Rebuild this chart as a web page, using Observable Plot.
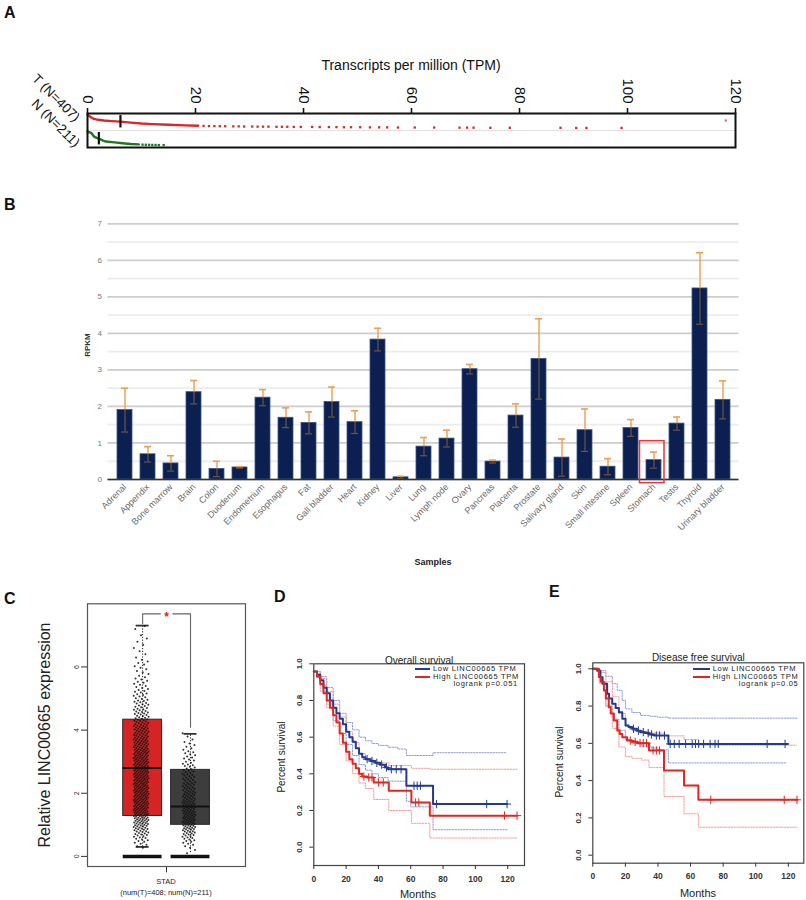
<!DOCTYPE html>
<html><head><meta charset="utf-8">
<script src="https://cdn.jsdelivr.net/npm/d3@7"></script>
<script src="https://cdn.jsdelivr.net/npm/@observablehq/plot@0.6"></script>
<style>
body{margin:0;background:#fff;}
#fig{position:relative;width:806px;height:900px;font-family:"Liberation Sans",Arial,Helvetica,sans-serif;overflow:hidden;background:#fff;color:#111;}
.plabel{position:absolute;font-weight:bold;font-size:16px;color:#111;}
</style></head><body><div id="fig"></div>
<script>
// ---------------- DATA ----------------
// Panel A: TPM quantile strip (T = tumour, N = normal); rank = fraction of samples
const A_ticks = [0, 20, 40, 60, 80, 100, 120];
const A_T_curveTpm  = [0, 0.2, 0.6, 1.2, 2, 3, 4.5, 6.1, 8, 10, 12, 15, 18, 20.5];
const A_T_curveRank = [0, 0.08, 0.18, 0.31, 0.37, 0.42, 0.46, 0.5, 0.57, 0.63, 0.67, 0.72, 0.76, 0.79];
const A_T_tailTpm  = [21.5, 22.5, 23.5, 24.5, 25.5, 27, 28, 29, 30.5, 31.5, 32.5, 33.5, 35, 36, 37, 38.2, 39.5, 41.6, 43, 44.7, 46.1, 47.5, 48.8, 50.5, 52.3, 54, 55.5, 57.5, 60.6, 64.2, 68.9, 70.3, 71.5, 74.6, 78.2, 87.6, 90.5, 92.4, 98.9];
const A_T_tailRank = [0.80, 0.81, 0.81, 0.82, 0.82, 0.83, 0.83, 0.84, 0.84, 0.85, 0.85, 0.85, 0.86, 0.86, 0.86, 0.87, 0.87, 0.87, 0.88, 0.88, 0.88, 0.89, 0.89, 0.89, 0.9, 0.9, 0.9, 0.91, 0.91, 0.91, 0.92, 0.92, 0.92, 0.93, 0.93, 0.93, 0.94, 0.94, 0.94];
const A_T_maxTpm = 118.2, A_T_maxRank = 0.42;
const A_N_curveTpm  = [0, 0.05, 0.3, 0.7, 1.0, 1.3, 1.7, 2.1, 2.8, 3.4, 5, 6.5, 8, 9.5];
const A_N_curveRank = [-0.05, 0.02, 0.05, 0.1, 0.25, 0.38, 0.45, 0.5, 0.62, 0.7, 0.76, 0.82, 0.87, 0.9];
const A_N_tailTpm  = [10.2, 10.8, 11.4, 12, 12.6, 13.2, 14.1];
const A_N_tailRank = [0.92, 0.93, 0.93, 0.94, 0.94, 0.95, 0.95];
const A_medianT = 6.1, A_medianN = 2.1;
const A_rows = ["T (N=407)", "N (N=211)"];

// Panel B: RPKM by tissue
const B_tissues = ["Adrenal","Appendix","Bone marrow","Brain","Colon","Duodenum","Endometrium","Esophagus","Fat","Gall bladder","Heart","Kidney","Liver","Lung","Lymph node","Ovary","Pancreas","Placenta","Prostate","Salivary gland","Skin","Small intestine","Spleen","Stomach","Testis","Thyroid","Urinary bladder"];
const B_rpkm = [1.90,0.69,0.44,2.39,0.29,0.33,2.24,1.69,1.55,2.12,1.57,3.83,0.06,0.90,1.12,3.02,0.49,1.75,3.30,0.60,1.35,0.35,1.41,0.53,1.53,5.23,2.18];
const B_sd   = [0.60,0.21,0.21,0.32,0.21,0.02,0.22,0.27,0.30,0.41,0.31,0.31,0.03,0.25,0.23,0.13,0.04,0.32,1.10,0.51,0.58,0.22,0.23,0.22,0.18,0.98,0.52];
const B_major = [0,1,2,3,4,5,6,7];
const B_minor = [0.5,1.5,2.5,3.5,4.5,5.5,6.5];
const B_highlight = "Stomach";

// Panel C: boxplot STAD
const C_groups = ["T","N"];
const C_q1 = [1.28, 1.00], C_med = [2.80, 1.58], C_q3 = [4.33, 2.74];
const C_whiskHi = [7.31, 3.88], C_whiskLo = [0.30, 0.12];
const C_yTicks = [0, 2, 4, 6];
const C_binStart = [0.3, 0.1];
const C_counts = [
  [2,3,4,5,6,7,8, 9,10,10,11,11,11,11,11,11,11, 11,11,11,11,11,11,11,11,11,10, 10,10,10,10,9,9,9,9,8,8, 8,8,7,7,6,6,6,5,5,5, 4,4,4,3,3,3,3,2,2,2, 2,2,2,1,1,1,1,1,1,1, 1,0,1,1],
  [1,1,2,3,4,5,6,7,8, 9,9,9,9,9,8,8,8,7,7, 7,6,6,6,5,5,5,4,4,4, 3,3,3,3,2,2,2,1,1,1]
];

// Panel D: overall survival (Kaplan-Meier)
const KM_xTicks = [0,20,40,60,80,100,120];
const KM_yTicks = [0,0.2,0.4,0.6,0.8,1.0];
const D_low_t = [0,2,4,6,8,10,12,14,16,18,20,22,24,26,28,30,32,35,38,41,44,46,57.3,73.8,119.6];
const D_low_s = [0.958,0.94,0.91,0.87,0.84,0.80,0.76,0.73,0.70,0.67,0.63,0.60,0.575,0.54,0.51,0.49,0.48,0.47,0.46,0.45,0.435,0.425,0.335,0.235,0.235];
const D_low_cens = [33,36,39,42,45,48,51,54,62,64,66,76,107,119.6];
const D_high_t = [0,2,4,6,8,10,12,14,16,18,20,22,24,26,28,30,33,37.1,46.4,60.4,71.8,125.8];
const D_high_s = [0.958,0.93,0.89,0.84,0.80,0.76,0.72,0.68,0.62,0.57,0.52,0.48,0.455,0.43,0.40,0.385,0.38,0.353,0.307,0.244,0.172,0.172];
const D_high_cens = [31,34,36,40,43,63,65,118,125.8];
const D_lowU_t = [0,4,8,12,16,20,24,28,32,36,40,46,52,57.3,73.8,119.6];
const D_lowU_s = [0.958,0.93,0.87,0.80,0.73,0.68,0.64,0.60,0.58,0.565,0.555,0.545,0.535,0.50,0.515,0.515];
const D_lowL_t = [0,4,8,12,16,20,24,28,32,36,40,46,57.3,60,73.8,119.6];
const D_lowL_s = [0.958,0.88,0.78,0.69,0.62,0.56,0.50,0.45,0.42,0.40,0.38,0.36,0.25,0.22,0.095,0.095];
const D_highCI_t = [0,4,8,12,16,20,24,28,32,37.1,46.4,60.4,71.8,125.8];
const D_highU_s = [0.958,0.92,0.85,0.78,0.71,0.63,0.57,0.51,0.48,0.46,0.445,0.43,0.425,0.425];
const D_highL_s = [0.958,0.85,0.76,0.66,0.56,0.47,0.40,0.35,0.32,0.26,0.20,0.13,0.05,0.05];

// Panel E: disease free survival
const E_low_t = [0,2.7,4.7,6,8.8,10,11.9,14,16,18.1,20.1,22,24.2,27,29.3,32,34.5,37.5,46.4,119.6];
const E_low_s = [1.0,0.99,0.955,0.92,0.866,0.84,0.812,0.79,0.767,0.732,0.696,0.688,0.678,0.668,0.66,0.655,0.648,0.642,0.597,0.597];
const E_low_cens = [25,28,31,34,36,39,41,44,47.5,50,53,57,61,63,65,68,72,75,77,107,118];
const E_high_t = [0,3.7,5,6.8,8,9.8,11,12.9,15,16.5,18.1,21.1,24,27.3,34.5,43.7,56,64.8,125.7];
const E_high_s = [1.0,0.955,0.93,0.884,0.84,0.794,0.76,0.723,0.669,0.65,0.633,0.615,0.608,0.601,0.562,0.454,0.374,0.297,0.297];
const E_high_cens = [23,26,29,31,33,37,39,41,72.4,117.5,125.3];
const E_lowU_t = [0,4,8,12,15,18,20.1,24,29.3,35,39.6,46.4,126];
const E_lowU_s = [1.0,0.99,0.96,0.92,0.884,0.83,0.785,0.765,0.75,0.745,0.74,0.735,0.735];
const E_lowL_t = [0,4,8,12,16,20,24,30,36,40,46.4,118.6];
const E_lowL_s = [1.0,0.93,0.80,0.73,0.67,0.62,0.60,0.585,0.575,0.565,0.495,0.495];
const E_highCI_t = [0,4,8,12,16,20,24,30,34.5,43.7,56,64.8,125];
const E_highU_s = [1.0,0.98,0.93,0.85,0.76,0.69,0.67,0.665,0.655,0.64,0.62,0.59,0.59];
const E_highL_s = [1.0,0.92,0.80,0.68,0.58,0.53,0.52,0.51,0.47,0.315,0.222,0.15,0.15];

// ---------------- HELPERS ----------------
const fig = document.getElementById("fig");
const FONT = "Liberation Sans, Arial, Helvetica, sans-serif";
function put(node, left, top) {
  const d = document.createElement("div");
  d.style.cssText = `position:absolute;left:${left}px;top:${top}px;`;
  d.appendChild(node); fig.appendChild(d); return d;
}
function ctext(text, cx, cy, style, rot) {
  const d = document.createElement("div");
  d.textContent = text;
  d.style.cssText = `position:absolute;left:${cx}px;top:${cy}px;white-space:nowrap;line-height:1;transform:translate(-50%,-50%) rotate(${rot||0}deg);${style||""}`;
  fig.appendChild(d); return d;
}
function ltext(text, x, cy, style, anchorRight) {
  const d = document.createElement("div");
  d.textContent = text;
  d.style.cssText = `position:absolute;left:${x}px;top:${cy}px;white-space:nowrap;line-height:1;transform:translate(${anchorRight ? "-100%" : "0"},-50%);${style||""}`;
  fig.appendChild(d); return d;
}
function hline(x, y, w, color, h) {
  const d = document.createElement("div");
  d.style.cssText = `position:absolute;left:${x}px;top:${y - (h||2)/2}px;width:${w}px;height:${h||2}px;background:${color};`;
  fig.appendChild(d);
}
function panelLabel(t, x, y) { const d = document.createElement("div"); d.className = "plabel"; d.textContent = t; d.style.left = x + "px"; d.style.top = y + "px"; fig.appendChild(d); }
const baseStyle = {fontFamily: FONT, background: "transparent", overflow: "visible", color: "#111"};

// ---------------- PANEL A ----------------
const rowPos = (row, r) => row + 0.06 + 0.84 * r;
const tCurve = A_T_curveTpm.map((v, i) => ({tpm: v, y: rowPos(0, A_T_curveRank[i])}));
const tTail = A_T_tailTpm.map((v, i) => ({tpm: v, y: rowPos(0, A_T_tailRank[i])}));
const nCurve = A_N_curveTpm.map((v, i) => ({tpm: v, y: rowPos(1, A_N_curveRank[i])}));
const nTail = A_N_tailTpm.map((v, i) => ({tpm: v, y: rowPos(1, A_N_tailRank[i])}));
const plotA = Plot.plot({
  width: 806, height: 160, marginLeft: 87, marginRight: 71, marginTop: 113, marginBottom: 13,
  style: {...baseStyle, fontSize: "15px"},
  x: {domain: [0, 120]},
  y: {domain: [0, 2], reverse: true, axis: null},
  marks: [
    Plot.ruleY([1], {stroke: "#e2e2e2", strokeWidth: 1.2}),
    Plot.line(tCurve, {x: "tpm", y: "y", stroke: "#d8282a", strokeWidth: 2.4}),
    Plot.dot(tTail, {x: "tpm", y: "y", r: 1.3, symbol: "square", fill: "#d8282a"}),
    Plot.dot([{tpm: A_T_maxTpm, y: rowPos(0, A_T_maxRank)}], {x: "tpm", y: "y", r: 1.3, symbol: "square", fill: "#e87070"}),
    Plot.line(nCurve, {x: "tpm", y: "y", stroke: "#1e7a22", strokeWidth: 2.4}),
    Plot.dot(nTail, {x: "tpm", y: "y", r: 1.3, symbol: "square", fill: "#1e7a22"}),
    Plot.ruleX([{v: A_medianT, row: 0}, {v: A_medianN, row: 1}], {x: "v", y1: d => d.row + 0.12, y2: d => d.row + 0.85, stroke: "#111", strokeWidth: 2.2}),
    Plot.frame({stroke: "#111", strokeWidth: 2}),
    Plot.axisX(A_ticks, {anchor: "top", tickRotate: 90, textAnchor: "end", lineAnchor: "middle", tickSize: 6, tickPadding: 4, fontSize: 15, strokeWidth: 1.6, label: null}),
    Plot.text(A_rows, {x: 0, y: (d, i) => i === 0 ? 0.35 : 1.85, text: d => d, rotate: 45, textAnchor: "end", dx: -10, fontSize: 13.5})
  ]
});
put(plotA, 0, 0);
panelLabel("A", 4, 4);
ctext("Transcripts per million (TPM)", 411, 65, "font-size:14px;");

// ---------------- PANEL B ----------------
const bData = B_tissues.map((t, i) => ({t, v: B_rpkm[i], sd: B_sd[i]}));
const plotB = Plot.plot({
  width: 806, height: 360, marginLeft: 107.5, marginRight: 67.5, marginTop: 23.3, marginBottom: 81,
  style: {...baseStyle, fontSize: "8px"},
  x: {domain: B_tissues, paddingInner: 0.36, paddingOuter: 0.18, label: null},
  y: {domain: [0, 7], label: null},
  marks: [
    Plot.ruleY(B_minor, {stroke: "#ececec", strokeWidth: 1.8}),
    Plot.ruleY(B_major, {stroke: "#cdcdcd", strokeWidth: 1.8}),
    Plot.barY(bData, {x: "t", y: "v", fill: "#0b2050", stroke: "#3b5584", strokeWidth: 0.8}),
    Plot.ruleX(bData, {x: "t", y1: "v", y2: d => d.v + d.sd, stroke: "#ef9d52", strokeWidth: 1.4}),
    Plot.ruleX(bData, {x: "t", y1: d => Math.max(0, d.v - d.sd), y2: "v", stroke: "#6e5440", strokeWidth: 1.2}),
    Plot.tickY(bData, {x: "t", y: d => d.v + d.sd, stroke: "#ef9d52", strokeWidth: 1.6, insetLeft: 4, insetRight: 4}),
    Plot.tickY(bData.filter(d => d.v - d.sd > 0.02), {x: "t", y: d => d.v - d.sd, stroke: "#6e5440", strokeWidth: 1.2, insetLeft: 4, insetRight: 4}),
    Plot.ruleY([0], {stroke: "#333", strokeWidth: 1.6}),
    Plot.barY([B_highlight], {x: d => d, y1: -0.1, y2: 1.05, fill: "none", stroke: "#e0393b", strokeWidth: 1.5, insetLeft: -6.5, insetRight: -3}),
    Plot.axisY(B_major, {tickSize: 0, tickPadding: 6, fontSize: 8, color: "#777", label: null}),
    Plot.axisX({tickSize: 0, tickRotate: -45, tickPadding: 6, fontSize: 9, color: "#6a6a6a", label: null})
  ]
});
put(plotB, 0, 200);
panelLabel("B", 4, 196);
ctext("RPKM", 88, 345, "font-size:8px;font-weight:bold;color:#333;", -90);
ctext("Samples", 433, 562, "font-size:9px;font-weight:bold;color:#222;");

// ---------------- PANEL C ----------------
const C_xpos = {T: 0.349, N: 0.652};
const C_jit = {T: [0.339, 0.048], N: [0.642, 0.041]};
const C_half = 0.123, C_cap = 0.041;
const cStats = C_groups.map((g, i) => ({g, q1: C_q1[i], med: C_med[i], q3: C_q3[i], hi: C_whiskHi[i], lo: C_whiskLo[i]}));
const C_fill = {T: "#d42424", N: "#3d3d3d"};
const cDots = [];
let gi = 0;
C_groups.forEach((g, k) => {
  C_counts[k].forEach((c, b) => {
    const base = C_binStart[k] + b * 0.1;
    for (let j = 0; j < c; j++) {
      gi++;
      const f = (gi * 0.6180339887) % 1 - 0.5;
      cDots.push({g, x: C_jit[g][0] + f * 2 * C_jit[g][1], v: base + ((j + 0.5) / c - 0.5) * 0.1});
    }
  });
});
const brTop = Math.max(...C_whiskHi) + 0.37;
const bracket = [
  {x: C_xpos.T, y: C_whiskHi[0] + 0.06}, {x: C_xpos.T, y: brTop},
  {x: C_xpos.N, y: brTop}, {x: C_xpos.N, y: C_whiskHi[1] + 0.21}
];
const plotC = Plot.plot({
  width: 260, height: 310, marginLeft: 87, marginRight: 15, marginTop: 13.3, marginBottom: 34,
  style: {...baseStyle, fontSize: "7px"},
  x: {domain: [0, 1], axis: null},
  y: {domain: [-0.32, 8.0], axis: null},
  marks: [
    Plot.ruleX(cStats, {x: d => C_xpos[d.g], y1: "q3", y2: "hi", stroke: "#222", strokeDasharray: "1.2,1.6"}),
    Plot.ruleX(cStats, {x: d => C_xpos[d.g], y1: "lo", y2: "q1", stroke: "#222", strokeDasharray: "1.2,1.6"}),
    Plot.ruleY(cStats, {y: "hi", x1: d => C_xpos[d.g] - C_cap, x2: d => C_xpos[d.g] + C_cap, stroke: "#333", strokeWidth: 1.8}),
    Plot.ruleY(cStats.slice(0, 1), {y: "lo", x1: d => C_xpos[d.g] - C_cap, x2: d => C_xpos[d.g] + C_cap, stroke: "#333", strokeWidth: 1.8}),
    Plot.rect(cStats, {x1: d => C_xpos[d.g] - C_half, x2: d => C_xpos[d.g] + C_half, y1: "q1", y2: "q3", fill: d => C_fill[d.g], stroke: "#2a2a2a", strokeWidth: 1}),
    Plot.dot(cDots, {x: "x", y: "v", r: 1, fill: "#111", fillOpacity: 0.85}),
    Plot.ruleY(cStats, {y: "med", x1: d => C_xpos[d.g] - C_half, x2: d => C_xpos[d.g] + C_half, stroke: "#111", strokeWidth: 2}),
    Plot.ruleY(cStats, {y: 0, x1: d => C_xpos[d.g] - C_half, x2: d => C_xpos[d.g] + C_half, stroke: "#111", strokeWidth: 3.5}),
    Plot.line(bracket, {x: "x", y: "y", stroke: "#666", strokeWidth: 1.1}),
    Plot.text(["*"], {x: 0.5, y: brTop, text: d => d, fill: "#e02020", stroke: "white", strokeWidth: 7, fontSize: 12, fontWeight: "bold", dy: 3}),
    Plot.ruleX([0.5], {x: d => d, y1: -0.32, y2: -0.52, stroke: "#333"}),
    Plot.frame({stroke: "#555", strokeWidth: 1.2}),
    Plot.axisY(C_yTicks, {tickRotate: -90, textAnchor: "middle", lineAnchor: "bottom", tickSize: 6, tickPadding: 3, fontSize: 7, color: "#333", label: null})
  ]
});
put(plotC, 0, 590);
panelLabel("C", 4, 590);
ctext("Relative LINC00665 expression", 45, 735, "font-size:16px;color:#222;", -90);
ctext("STAD", 166, 882, "font-size:7.5px;color:#222;");
ctext("(num(T)=408; num(N)=211)", 166, 893, "font-size:7.5px;color:#222;");

// ---------------- KM PANELS ----------------
const BLUE = "#233a90", RED = "#e0261f", BLUE_CI = "#8f9bd8", RED_CI = "#f29c98";
const series = (t, s) => t.map((v, i) => ({t: v, s: s[i]}));
const stepAt = (t, s, x) => { let r = s[0]; for (let i = 0; i < t.length; i++) if (t[i] <= x) r = s[i]; return r; };
function kmPlot(o) {
  return Plot.plot({
    width: o.width, height: 260, marginLeft: o.ml, marginRight: o.mr, marginTop: o.mt, marginBottom: o.mb,
    style: {...baseStyle, fontSize: "8.5px"},
    x: {domain: o.xdom, label: null},
    y: {domain: o.ydom, label: null},
    marks: [
      Plot.line(series(o.lowU[0], o.lowU[1]), {x: "t", y: "s", curve: "step-after", stroke: BLUE_CI, strokeWidth: 1, strokeDasharray: "1.5,1.3"}),
      Plot.line(series(o.lowL[0], o.lowL[1]), {x: "t", y: "s", curve: "step-after", stroke: BLUE_CI, strokeWidth: 1, strokeDasharray: "1.5,1.3"}),
      Plot.line(series(o.highU[0], o.highU[1]), {x: "t", y: "s", curve: "step-after", stroke: RED_CI, strokeWidth: 1, strokeDasharray: "1.5,1.3"}),
      Plot.line(series(o.highL[0], o.highL[1]), {x: "t", y: "s", curve: "step-after", stroke: RED_CI, strokeWidth: 1, strokeDasharray: "1.5,1.3"}),
      Plot.line(series(o.low[0], o.low[1]), {x: "t", y: "s", curve: "step-after", stroke: BLUE, strokeWidth: 2}),
      Plot.line(series(o.high[0], o.high[1]), {x: "t", y: "s", curve: "step-after", stroke: RED, strokeWidth: 2}),
      Plot.dot(o.lowC, {x: d => d, y: d => stepAt(o.low[0], o.low[1], d), symbol: "plus", r: 2.8, stroke: BLUE, strokeWidth: 1}),
      Plot.dot(o.highC, {x: d => d, y: d => stepAt(o.high[0], o.high[1], d), symbol: "plus", r: 2.8, stroke: RED, strokeWidth: 1}),
      Plot.frame({stroke: "#444", strokeWidth: 1.2}),
      Plot.text([o.title], {frameAnchor: "top", dy: o.titleDy, text: d => d, fontSize: 10, fill: "#222"}),
      Plot.axisY(KM_yTicks, {tickRotate: -90, textAnchor: "middle", lineAnchor: "bottom", tickSize: 4, tickPadding: 8, fontSize: 8, fontWeight: "bold", tickFormat: d3.format(".1f"), color: "#333", label: null}),
      Plot.axisX(KM_xTicks, {tickSize: 4, tickPadding: 6, fontSize: 8.5, fontWeight: "bold", color: "#333", label: null})
    ]
  });
}
const plotD = kmPlot({
  width: 275, ml: 53.3, mr: 11, mt: 23.3, mb: 35, xdom: [0, 130.4], ydom: [-0.1, 1.0], title: "Overall survival", titleDy: -7,
  low: [D_low_t, D_low_s], high: [D_high_t, D_high_s], lowC: D_low_cens, highC: D_high_cens,
  lowU: [D_lowU_t, D_lowU_s], lowL: [D_lowL_t, D_lowL_s], highU: [D_highCI_t, D_highU_s], highL: [D_highCI_t, D_highL_s]
});
put(plotD, 260, 640);
const plotE = kmPlot({
  width: 271, ml: 57.3, mr: 2.7, mt: 22.3, mb: 37.3, xdom: [0, 129.5], ydom: [-0.043, 1.032], title: "Disease free survival", titleDy: -9,
  low: [E_low_t, E_low_s], high: [E_high_t, E_high_s], lowC: E_low_cens, highC: E_high_cens,
  lowU: [E_lowU_t, E_lowU_s], lowL: [E_lowL_t, E_lowL_s], highU: [E_highCI_t, E_highU_s], highL: [E_highCI_t, E_highL_s]
});
put(plotE, 535, 640);
panelLabel("D", 274, 588);
panelLabel("E", 549, 583);

// KM axis titles & legends
ctext("Percent survival", 282, 757, "font-size:10px;color:#222;", -90);
ctext("Months", 418, 894, "font-size:11px;color:#222;");
ctext("Percent survival", 560, 762, "font-size:10px;color:#222;", -90);
ctext("Months", 698, 893, "font-size:11px;color:#222;");
const LEG = "font-size:7.5px;letter-spacing:0.7px;color:#222;";
hline(415, 669, 15, BLUE); hline(415, 676.6, 15, RED);
ltext("Low LINC00665 TPM", 433, 669, LEG);
ltext("High LINC00665 TPM", 433, 676.6, LEG);
ltext("logrank p=0.051", 518, 684.2, LEG, true);
hline(693, 669, 17, BLUE); hline(693, 676.6, 17, RED);
ltext("Low LINC00665 TPM", 712.7, 669, LEG);
ltext("High LINC00665 TPM", 712.7, 676.6, LEG);
ltext("logrank p=0.05", 798.5, 684.2, LEG, true);
</script></body></html>
